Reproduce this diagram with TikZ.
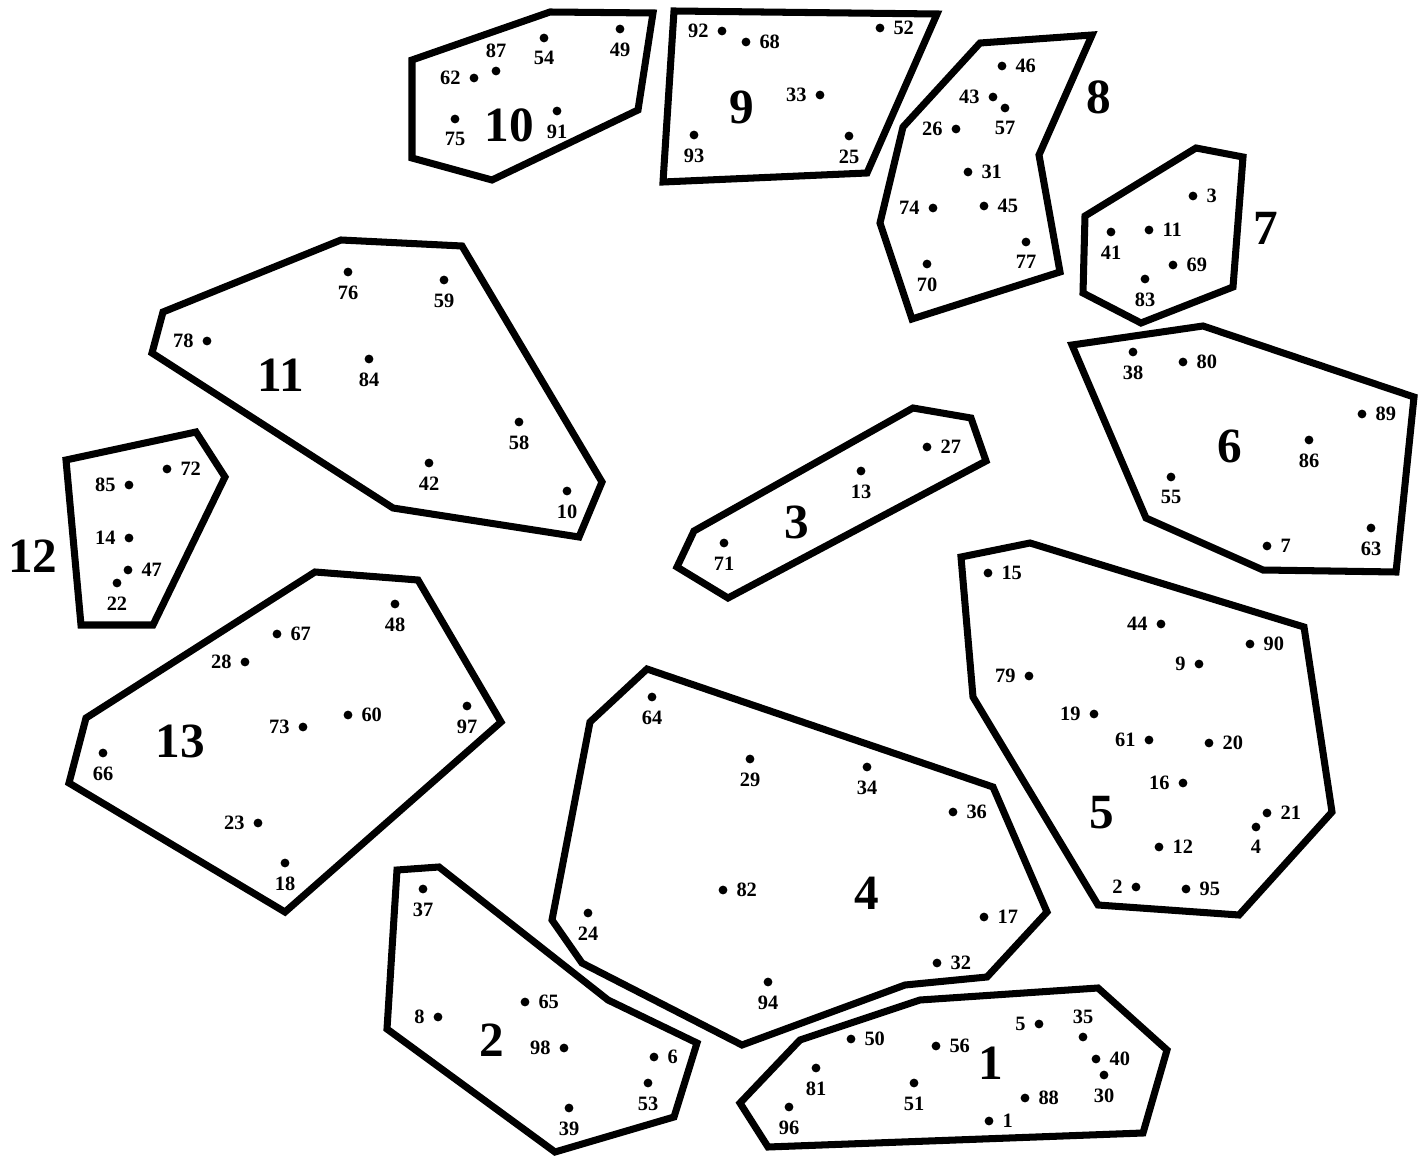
\documentclass[tikz,border=0pt]{standalone}
\usepackage{fontspec}
\setmainfont{Liberation Serif}

\begin{document}
\begin{tikzpicture}[x=0.01cm, y=-0.01cm,
    cluster/.style={line width=2pt, line join=miter},
    dot/.style={circle, fill, inner sep=0pt, minimum size=2.5pt},
    lbl/.style={font=\fontsize{5.8}{6}\selectfont\bfseries, inner sep=0.3pt},
    big/.style={font=\fontsize{14}{14}\selectfont\bfseries, inner sep=0pt},
    label distance=1.9pt]

\useasboundingbox (0,0) rectangle (1424,1158);

% Contours des groupes
\draw[cluster] (740,1103) -- (800,1040) -- (920,1000) -- (1098,988) -- (1167,1050) -- (1143,1133) -- (768,1147) -- cycle;
\draw[cluster] (397,870) -- (439,867) -- (608,1000) -- (697,1043) -- (674,1117) -- (555,1152) -- (387,1029) -- cycle;
\draw[cluster] (694,531) -- (913,408) -- (971,418) -- (986,461) -- (728,598) -- (677,567) -- cycle;
\draw[cluster] (647,669) -- (993,787) -- (1047,912) -- (987,977) -- (905,985) -- (742,1045) -- (582,963) -- (552,920) -- (590,722) -- cycle;
\draw[cluster] (961,557) -- (1030,543) -- (1304,627) -- (1332,812) -- (1239,915) -- (1098,905) -- (973,697) -- cycle;
\draw[cluster] (1072,345) -- (1203,326) -- (1414,397) -- (1396,572) -- (1263,570) -- (1146,518) -- cycle;
\draw[cluster] (1085,216) -- (1196,148) -- (1243,157) -- (1233,287) -- (1141,323) -- (1083,293) -- cycle;
\draw[cluster] (980,43) -- (1092,35) -- (1039,155) -- (1060,272) -- (912,319) -- (880,223) -- (903,127) -- cycle;
\draw[cluster] (674,11) -- (937,14) -- (867,173) -- (663,182) -- cycle;
\draw[cluster] (412,60) -- (550,12) -- (653,13) -- (638,110) -- (492,180) -- (412,158) -- cycle;
\draw[cluster] (163,312) -- (341,240) -- (462,246) -- (602,482) -- (579,537) -- (393,508) -- (152,353) -- cycle;
\draw[cluster] (66,460) -- (196,432) -- (225,477) -- (153,625) -- (81,625) -- cycle;
\draw[cluster] (315,572) -- (418,580) -- (501,722) -- (285,912) -- (69,783) -- (86,718) -- cycle;

% Numeros des groupes
\foreach \g/\x/\y in {1/991/1063, 2/492/1040, 3/797/522, 4/867/893, 5/1102/813,
    6/1230/446, 7/1266/228, 8/1099/97, 9/742/107, 10/509/125, 11/281/375,
    12/33/556, 13/180/741}
  \node[big] (g\g) at (\x,\y) {\g};

% Points
\foreach \n/\x/\y/\p in {
    62/474/78/left, 87/496/71/above, 54/544/38/below, 49/620/29/below, 75/455/119/below, 91/557/111/below,
    92/722/31/left, 68/746/42/right, 52/880/28/right, 33/820/95/left, 93/694/135/below, 25/849/136/below,
    46/1002/66/right, 43/993/97/left, 57/1005/108/below, 26/956/129/left, 31/968/172/right,
    74/933/208/left, 45/984/206/right, 77/1026/242/below, 70/927/264/below,
    3/1193/196/right, 41/1111/232/below, 11/1149/230/right, 69/1173/265/right, 83/1145/279/below,
    38/1133/352/below, 80/1183/362/right, 89/1362/414/right, 86/1309/440/below, 55/1171/477/below,
    7/1267/546/right, 63/1371/528/below,
    15/988/573/right, 44/1161/624/left, 90/1250/644/right, 9/1199/664/left, 79/1029/676/left,
    19/1094/714/left, 61/1149/740/left, 20/1209/743/right, 16/1183/783/left, 21/1267/813/right,
    4/1256/827/below, 12/1159/847/right, 2/1136/887/left, 95/1186/889/right,
    5/1039/1024/left, 35/1083/1037/above, 40/1096/1059/right, 30/1104/1075/below, 88/1025/1098/right,
    1/989/1121/right, 56/936/1046/right, 50/851/1039/right, 81/816/1068/below, 51/914/1083/below, 96/789/1107/below,
    64/652/697/below, 29/750/759/below, 34/867/767/below, 36/953/812/right, 82/723/890/right,
    24/588/913/below, 17/984/917/right, 32/937/963/right, 94/768/982/below,
    37/423/889/below, 8/438/1017/left, 65/525/1002/right, 98/564/1048/left, 6/654/1057/right,
    53/648/1083/below, 39/569/1108/below,
    27/927/447/right, 13/861/471/below, 71/724/543/below,
    76/348/272/below, 59/444/280/below, 78/207/341/left, 84/369/359/below, 58/519/422/below,
    42/429/463/below, 10/567/491/below,
    85/129/485/left, 72/167/469/right, 14/129/538/left, 47/128/570/right, 22/117/583/below,
    48/395/604/below, 67/277/634/right, 28/245/662/left, 60/348/715/right, 73/303/727/left,
    97/467/706/below, 66/103/753/below, 23/258/823/left, 18/285/863/below}
  \node[dot, label={[lbl]\p:\n}] (p\n) at (\x,\y) {};

\end{tikzpicture}
\end{document}
